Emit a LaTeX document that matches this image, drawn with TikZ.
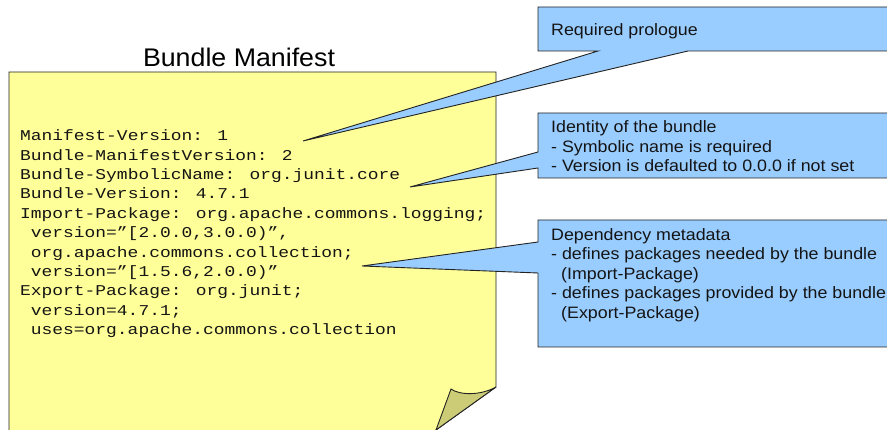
\documentclass[tikz,border=0pt]{standalone}
\usepackage{fontspec}
\usetikzlibrary{calc}
\setmainfont{Liberation Sans}
\newfontfamily\notemono[FakeStretch=1.195]{Liberation Mono}
\newfontfamily\calloutfont[FakeStretch=1.08]{Liberation Sans}
\newfontfamily\titlefont[FakeStretch=1.05]{Liberation Sans}

\definecolor{notefill}{RGB}{255,255,153}
\definecolor{foldfill}{RGB}{204,204,119}
\definecolor{calloutfill}{RGB}{153,204,255}
\definecolor{edgeink}{RGB}{35,35,35}
\definecolor{textink}{RGB}{20,20,20}

\tikzset{
  outline/.style={draw=edgeink, line width=0.9pt, line join=miter},
  notebody/.style={outline, fill=notefill},
  foldpart/.style={outline, fill=foldfill},
  calloutbody/.style={outline, fill=calloutfill},
  codeline/.style={anchor=base west, inner sep=0pt, text=textink,
    font=\notemono\fontsize{15}{19.4}\selectfont},
  calltext/.style={anchor=base west, inner sep=0pt, text=textink,
    font=\calloutfont\fontsize{16.5}{19.5}\selectfont},
  titletext/.style={anchor=base, inner sep=0pt, text=black,
    font=\titlefont\fontsize{25.5}{30}\selectfont},
}

\begin{document}
\begin{tikzpicture}[x=1pt,y=-1pt]
\useasboundingbox (0,0) rectangle (887,430);
\clip (0,0) rectangle (887,430);

% ---- manifest note with folded corner ----
\coordinate (noteTL) at (9,72);
\coordinate (noteTR) at (496,72);
\coordinate (foldTop) at (496,387);
\coordinate (foldBottom) at (436,430);
\coordinate (foldTip) at (451,389);
\draw[notebody] (9,445) -- (noteTL) -- (noteTR) -- (foldTop)
  -- ($(foldTop)!1.35!(foldBottom)$) -- (9,445);
\draw[foldpart] (foldTip) .. controls (459,395) and (480,396) .. (foldTop)
  -- (foldBottom) -- cycle;

\node[titletext] (title) at (239,67) {Bundle Manifest};

% ---- manifest headers ----
\node[codeline] (m1)  at (20,140.7)   {Manifest-Version: 1};
\node[codeline] (m2)  at (20,160.1)   {Bundle-ManifestVersion: 2};
\node[codeline] (m3)  at (20,179.5)   {Bundle-SymbolicName: org.junit.core};
\node[codeline] (m4)  at (20,198.9)   {Bundle-Version: 4.7.1};
\node[codeline] (m5)  at (20,218.3)   {Import-Package: org.apache.commons.logging;};
\node[codeline] (m6)  at (30.75,237.7) {version=”[2.0.0,3.0.0)”,};
\node[codeline] (m7)  at (30.75,257.1) {org.apache.commons.collection;};
\node[codeline] (m8)  at (30.75,276.5) {version=”[1.5.6,2.0.0)”};
\node[codeline] (m9)  at (20,295.9)   {Export-Package: org.junit;};
\node[codeline] (m10) at (30.75,315.3) {version=4.7.1;};
\node[codeline] (m11) at (30.75,334.7) {uses=org.apache.commons.collection};

% ---- callout: required prologue ----
\coordinate (tipA) at (303,141);
\draw[calloutbody] (538,7) -- (892,7) -- (892,51) -- (688,51) -- (tipA)
  -- (598,51) -- (538,51) -- cycle;
\node[calltext] (prologue) at (551,35.7) {Required prologue};

% ---- callout: bundle identity ----
\coordinate (tipB) at (410,187);
\draw[calloutbody] (538,113) -- (892,113) -- (892,178) -- (538,178)
  -- (538,168) -- (tipB) -- (538,152) -- cycle;
\node[calltext] (id1) at (551,132.7) {Identity of the bundle};
\node[calltext] (id2) at (551,152.2) {- Symbolic name is required};
\node[calltext] (id3) at (551,171.7) {- Version is defaulted to 0.0.0 if not set};

% ---- callout: dependency metadata ----
\coordinate (tipC) at (362,266);
\draw[calloutbody] (538,220) -- (892,220) -- (892,347) -- (538,347)
  -- (538,273) -- (tipC) -- (538,242) -- cycle;
\node[calltext] (dep1) at (551,240.3) {Dependency metadata};
\node[calltext] (dep2) at (551,259.8) {- defines packages needed by the bundle};
\node[calltext] (dep3) at (561,279.3) {(Import-Package)};
\node[calltext] (dep4) at (551,298.8) {- defines packages provided by the bundle};
\node[calltext] (dep5) at (561,318.3) {(Export-Package)};
\end{tikzpicture}
\end{document}
